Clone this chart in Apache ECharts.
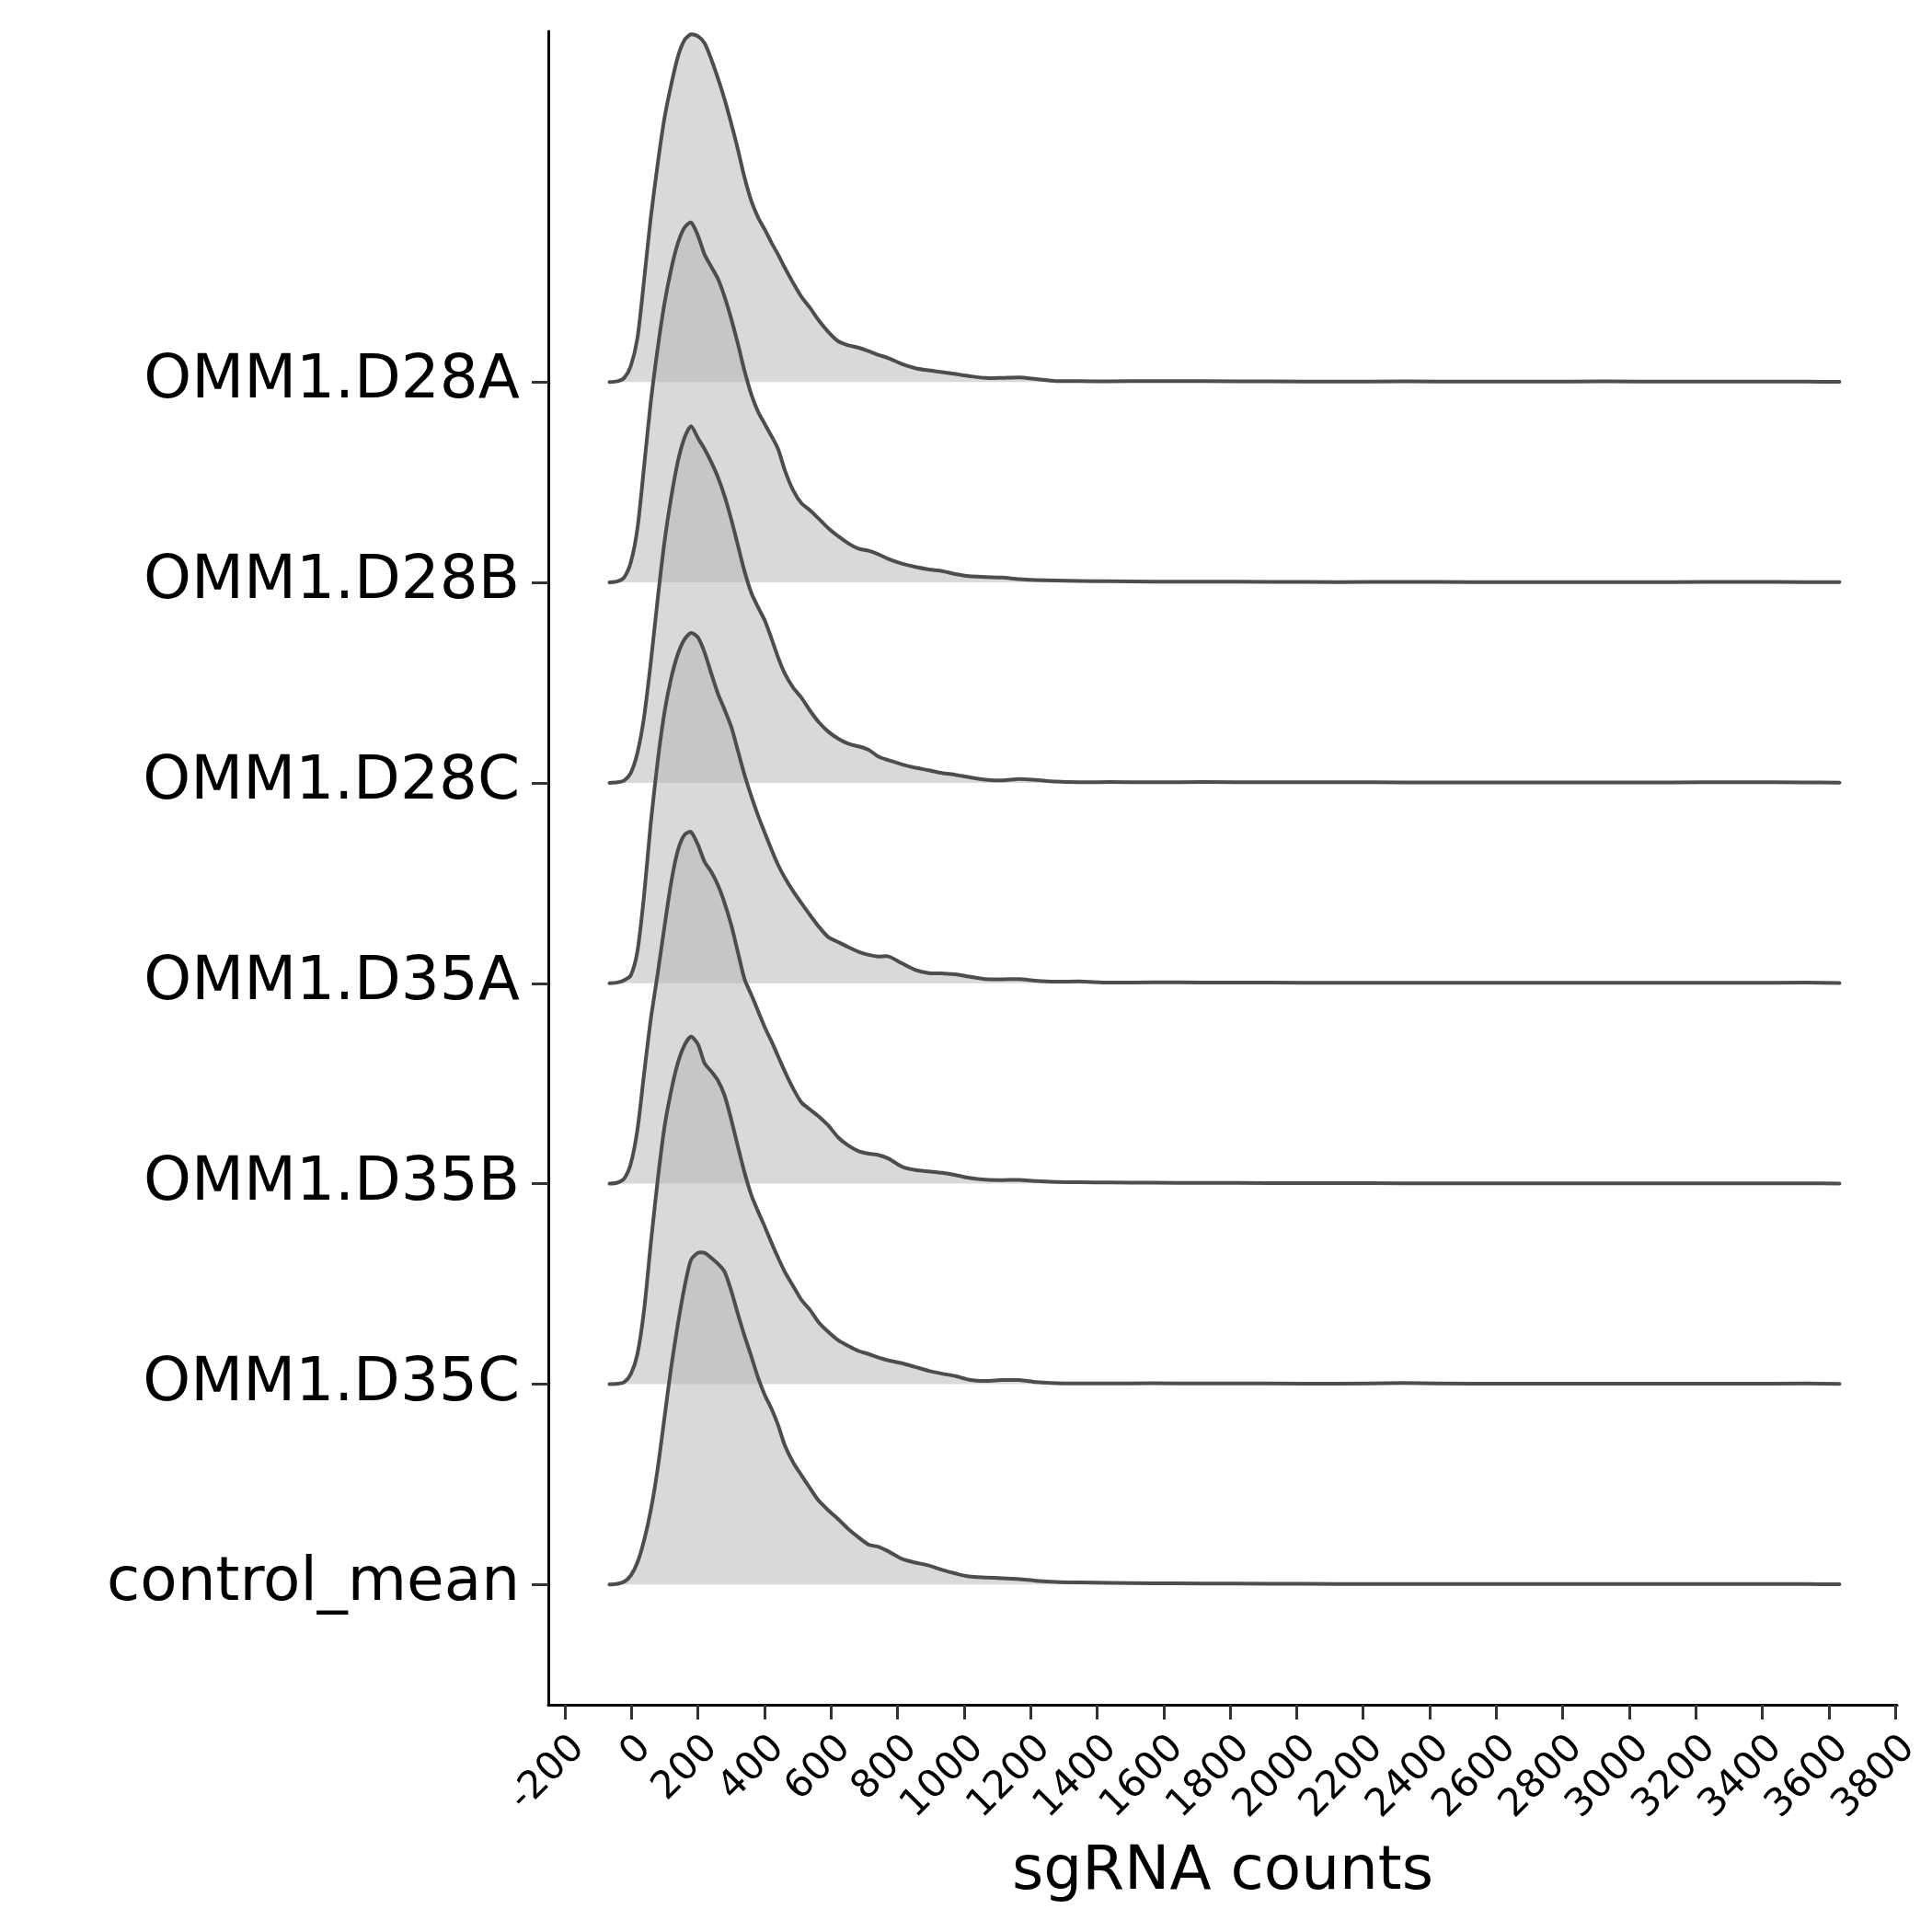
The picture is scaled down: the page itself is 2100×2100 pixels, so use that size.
<!DOCTYPE html>
<html>
<head>
<meta charset="utf-8">
<script src="https://cdn.jsdelivr.net/npm/echarts@6/dist/echarts.min.js"></script>
<style>html,body{margin:0;padding:0;background:#fff}#chart{width:2100px;height:2100px}</style>
</head>
<body>
<div id="chart"></div>
<script>
// Ridge categories, bottom to top of the plot
const categories = ['control_mean', 'OMM1.D35C', 'OMM1.D35B', 'OMM1.D35A', 'OMM1.D28C', 'OMM1.D28B', 'OMM1.D28A'];

// x-axis tick labels
const xTicks = [-200, 0, 200, 400, 600, 800, 1000, 1200, 1400, 1600, 1800, 2000, 2200, 2400, 2600, 2800, 3000, 3200, 3400, 3600, 3800];

// sgRNA count positions where each density is read
const counts = [-66, -42, -22, -2, 18, 38, 58, 79, 99, 119, 139, 159, 179,
  200, 220, 240, 260, 280, 300, 320, 340, 361, 381,
  401, 421, 441, 461, 486, 511, 537, 562, 592, 622,
  652, 683, 713, 743, 773, 813, 854, 894, 934, 974,
  1015, 1065, 1115, 1166, 1216, 1276,
  1347, 1437, 1568, 1719, 1920, 2122, 2323, 2524, 2726, 2927, 3128, 3329, 3531, 3632];

// ridge heights (in units of ridge spacing)
const dOMM1_D28A = [0, 0.004, 0.02, 0.08, 0.22, 0.51, 0.82, 1.09, 1.315, 1.48, 1.62, 1.705, 1.735,
  1.725, 1.69, 1.61, 1.515, 1.41, 1.29, 1.16, 1.02, 0.90, 0.82,
  0.76, 0.695, 0.635, 0.57, 0.495, 0.425, 0.37, 0.31, 0.25, 0.203,
  0.183, 0.171, 0.154, 0.135, 0.119, 0.09, 0.069, 0.058, 0.049, 0.04,
  0.03, 0.02, 0.021, 0.023, 0.015, 0.005,
  0.004, 0.003, 0.005, 0.004, 0.003, 0.002, 0.003, 0.002, 0.002, 0.003, 0.002, 0.002, 0.002, 0.001];
const dOMM1_D28B = [0, 0.005, 0.025, 0.1, 0.27, 0.58, 0.9, 1.17, 1.39, 1.56, 1.69, 1.77, 1.796,
  1.73, 1.635, 1.575, 1.515, 1.425, 1.315, 1.19, 1.055, 0.935, 0.85,
  0.79, 0.73, 0.665, 0.56, 0.46, 0.395, 0.36, 0.32, 0.27, 0.23,
  0.195, 0.168, 0.158, 0.14, 0.117, 0.094, 0.077, 0.065, 0.057, 0.042,
  0.031, 0.027, 0.024, 0.016, 0.012, 0.009,
  0.007, 0.006, 0.004, 0.004, 0.003, 0.002, 0.003, 0.002, 0.002, 0.002, 0.002, 0.003, 0.002, 0.001];
const dOMM1_D28C = [0, 0.003, 0.012, 0.05, 0.15, 0.33, 0.6, 0.92, 1.2, 1.42, 1.6, 1.72, 1.78,
  1.72, 1.665, 1.6, 1.525, 1.43, 1.315, 1.185, 1.055, 0.945, 0.875,
  0.81, 0.72, 0.625, 0.545, 0.475, 0.425, 0.36, 0.305, 0.255, 0.22,
  0.195, 0.182, 0.165, 0.13, 0.113, 0.092, 0.075, 0.063, 0.049, 0.04,
  0.028, 0.016, 0.012, 0.019, 0.014, 0.006,
  0.003, 0.004, 0.003, 0.004, 0.003, 0.003, 0.002, 0.002, 0.002, 0.002, 0.002, 0.003, 0.002, 0.001];
const dOMM1_D35A = [0, 0.004, 0.015, 0.04, 0.16, 0.44, 0.8, 1.11, 1.35, 1.52, 1.64, 1.715, 1.748,
  1.725, 1.65, 1.545, 1.445, 1.365, 1.28, 1.16, 1.04, 0.93, 0.835,
  0.75, 0.667, 0.59, 0.527, 0.46, 0.40, 0.34, 0.285, 0.23, 0.205,
  0.18, 0.157, 0.142, 0.133, 0.134, 0.1, 0.066, 0.051, 0.049, 0.045,
  0.033, 0.021, 0.02, 0.021, 0.013, 0.008,
  0.009, 0.003, 0.005, 0.003, 0.003, 0.002, 0.002, 0.002, 0.002, 0.002, 0.002, 0.002, 0.003, 0.001];
const dOMM1_D35B = [0, 0.005, 0.025, 0.1, 0.27, 0.55, 0.82, 1.05, 1.28, 1.5, 1.66, 1.74, 1.755,
  1.69, 1.605, 1.556, 1.49, 1.40, 1.29, 1.155, 1.02, 0.94, 0.86,
  0.78, 0.71, 0.635, 0.56, 0.475, 0.405, 0.37, 0.337, 0.29, 0.23,
  0.19, 0.162, 0.15, 0.143, 0.125, 0.085, 0.068, 0.061, 0.054, 0.043,
  0.029, 0.02, 0.018, 0.019, 0.013, 0.009,
  0.007, 0.006, 0.005, 0.004, 0.003, 0.003, 0.002, 0.002, 0.002, 0.002, 0.002, 0.002, 0.002, 0.001];
const dOMM1_D35C = [0, 0.002, 0.01, 0.05, 0.15, 0.37, 0.7, 1.02, 1.28, 1.46, 1.6, 1.69, 1.734,
  1.695, 1.60, 1.56, 1.515, 1.44, 1.32, 1.185, 1.055, 0.94, 0.86,
  0.785, 0.705, 0.63, 0.56, 0.49, 0.42, 0.37, 0.31, 0.26, 0.218,
  0.19, 0.165, 0.15, 0.132, 0.118, 0.104, 0.085, 0.066, 0.052, 0.04,
  0.022, 0.016, 0.02, 0.02, 0.01, 0.004,
  0.003, 0.003, 0.004, 0.003, 0.003, 0.002, 0.005, 0.002, 0.002, 0.002, 0.002, 0.002, 0.003, 0.001];
const dControl_mean = [0, 0.004, 0.014, 0.045, 0.11, 0.22, 0.37, 0.58, 0.83, 1.08, 1.294, 1.48, 1.62,
  1.655, 1.655, 1.63, 1.60, 1.56, 1.465, 1.35, 1.24, 1.135, 1.03,
  0.945, 0.877, 0.795, 0.695, 0.61, 0.545, 0.48, 0.42, 0.37, 0.325,
  0.277, 0.235, 0.199, 0.188, 0.165, 0.128, 0.109, 0.095, 0.073, 0.055,
  0.04, 0.035, 0.031, 0.027, 0.019, 0.013,
  0.01, 0.008, 0.006, 0.005, 0.004, 0.003, 0.003, 0.003, 0.002, 0.002, 0.002, 0.002, 0.002, 0.001];

// drawing order: top ridge first so lower ridges overlay it
const ridges = [
  { name: 'OMM1.D28A', d: dOMM1_D28A },
  { name: 'OMM1.D28B', d: dOMM1_D28B },
  { name: 'OMM1.D28C', d: dOMM1_D28C },
  { name: 'OMM1.D35A', d: dOMM1_D35A },
  { name: 'OMM1.D35B', d: dOMM1_D35B },
  { name: 'OMM1.D35C', d: dOMM1_D35C },
  { name: 'control_mean', d: dControl_mean }
];

const series = ridges.map(function (r) {
  const base = categories.indexOf(r.name);
  return {
    type: 'custom', name: r.name, silent: true,
    data: counts.map(function (x, k) { return [x, base + r.d[k]]; }),
    encode: { x: 0, y: 1 },
    renderItem: function (params, api) {
      if (params.dataIndex !== 0) return null;
      const pts = counts.map(function (x, k) { return api.coord([x, base + r.d[k]]); });
      const b1 = api.coord([counts[counts.length - 1], base]);
      const b0 = api.coord([counts[0], base]);
      const poly = pts.concat([b1, b0]);
      return {
        type: 'group',
        children: [
          { type: 'polygon', shape: { points: poly, smooth: 0 },
            style: { fill: 'rgba(179,179,179,0.5)', stroke: null } },
          { type: 'polyline', shape: { points: pts, smooth: 0.25 },
            style: { fill: null, stroke: '#4d4d4d', lineWidth: 4, lineJoin: 'round', lineCap: 'round' } }
        ]
      };
    }
  };
});

const FONT = 'DejaVu Sans';
const chart = echarts.init(document.getElementById('chart'), null, { renderer: 'canvas' });
chart.setOption({
  animation: false,
  backgroundColor: '#ffffff',
  grid: { left: 596, top: 34, right: 38, bottom: 247, containLabel: false },
  xAxis: {
    type: 'value', min: -250, max: 3805,
    name: 'sgRNA counts', nameLocation: 'middle', nameGap: 150,
    nameTextStyle: { fontFamily: FONT, fontSize: 66, color: '#000' },
    axisLine: { show: true, onZero: false, lineStyle: { color: '#000', width: 3 } },
    axisTick: { show: true, customValues: xTicks, length: 16, lineStyle: { color: '#333', width: 3 } },
    axisLabel: { customValues: xTicks, rotate: 45, margin: 26, verticalAlign: 'top', align: 'right',
      fontFamily: FONT, fontSize: 42, color: '#000',
      formatter: function (v) { return String(v); } },
    splitLine: { show: false }
  },
  yAxis: {
    type: 'value', min: -0.6, max: 7.75,
    axisLine: { show: true, onZero: false, lineStyle: { color: '#000', width: 3 } },
    axisTick: { show: true, customValues: [0, 1, 2, 3, 4, 5, 6], length: 18, lineStyle: { color: '#333', width: 3 } },
    axisLabel: {
      customValues: [0, 1, 2, 3, 4, 5, 6], margin: 31,
      fontFamily: FONT, fontSize: 66, color: '#000',
      formatter: function (v) { return categories[Math.round(v)]; }
    },
    splitLine: { show: false }
  },
  series: series
});
</script>
</body>
</html>
